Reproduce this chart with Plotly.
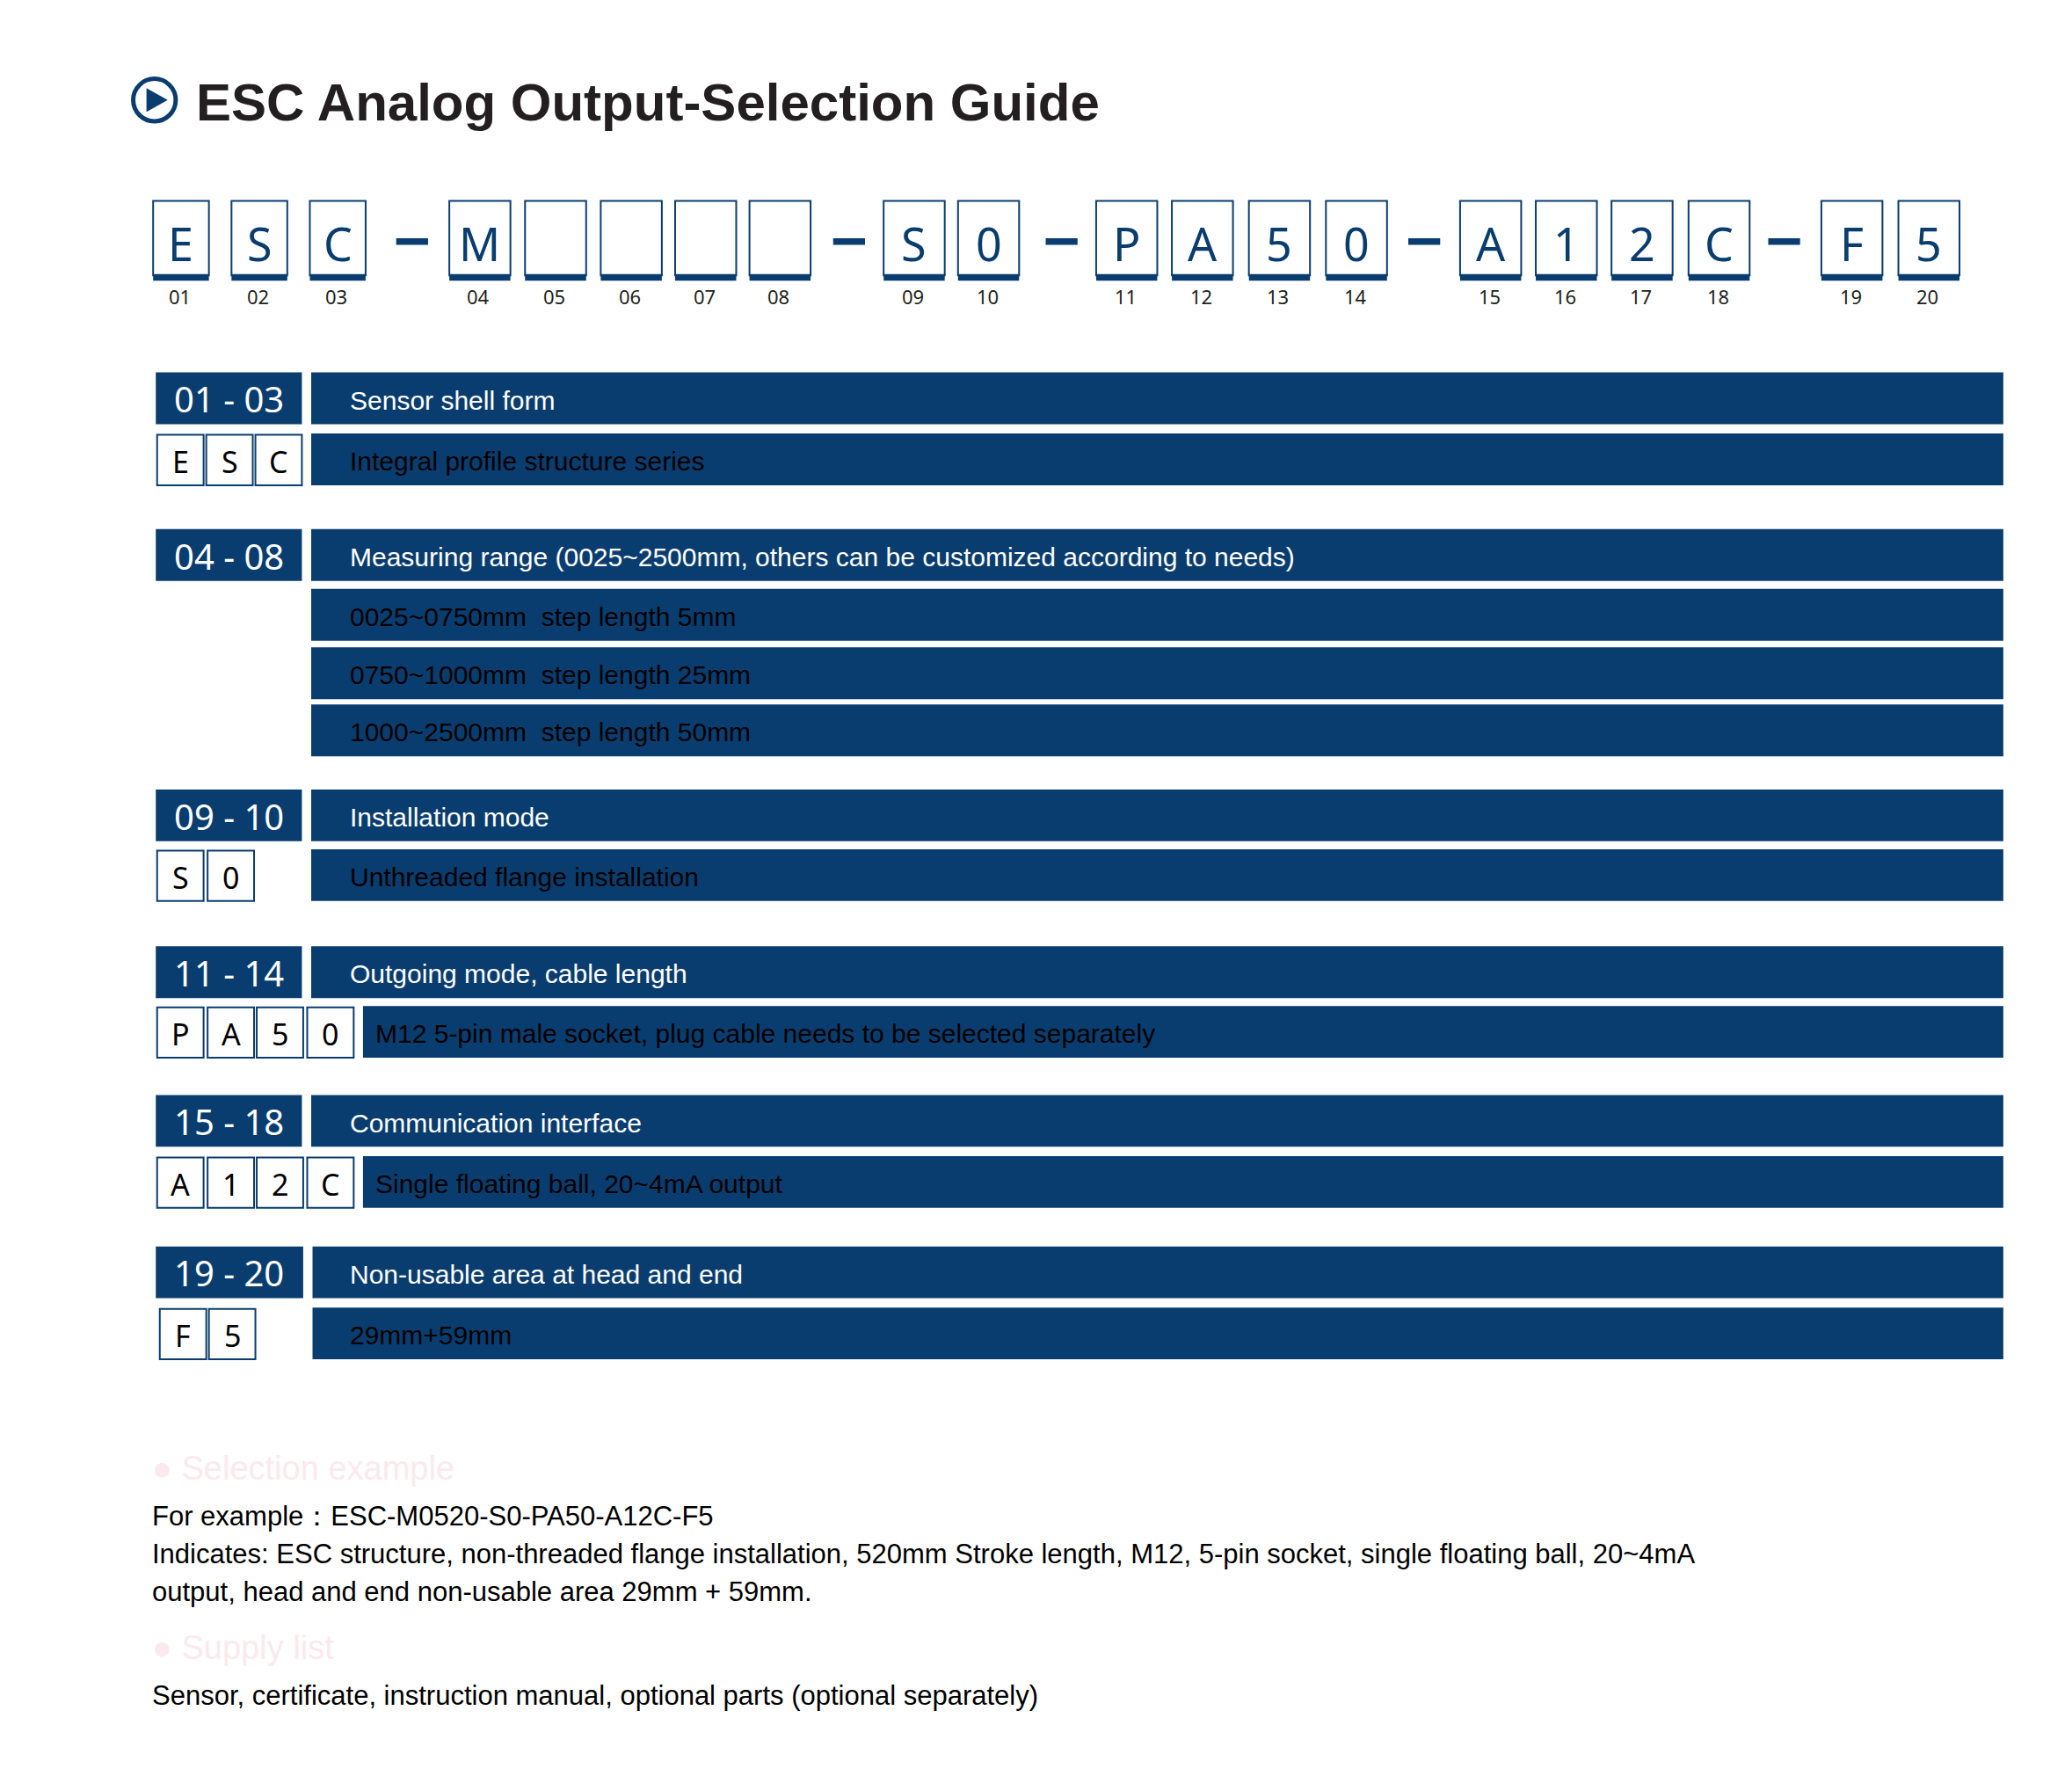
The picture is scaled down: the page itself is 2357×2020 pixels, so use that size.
import plotly.graph_objects as go

W, H = 2357, 2020
K = W / 1560.0
BLUE = "#0a3d6f"
DARK = "#231f20"

title = "ESC Analog Output-Selection Guide"
code_chars = ["E", "S", "C", "M", "", "", "", "", "S", "0", "P", "A", "5", "0", "A", "1", "2", "C", "F", "5"]
code_nums = ["01", "02", "03", "04", "05", "06", "07", "08", "09", "10", "11", "12", "13", "14", "15", "16", "17", "18", "19", "20"]
section_ranges = ["01 - 03", "04 - 08", "09 - 10", "11 - 14", "15 - 18", "19 - 20"]
section_titles = ["Sensor shell form",
                  "Measuring range (0025~2500mm, others can be customized according to needs)",
                  "Installation mode", "Outgoing mode, cable length",
                  "Communication interface", "Non-usable area at head and end"]
section_options = [["Integral profile structure series"],
                   ["0025~0750mm  step length 5mm", "0750~1000mm  step length 25mm", "1000~2500mm  step length 50mm"],
                   ["Unthreaded flange installation"],
                   ["M12 5-pin male socket, plug cable needs to be selected separately"],
                   ["Single floating ball, 20~4mA output"],
                   ["29mm+59mm"]]
option_codes = [["E", "S", "C"], [], ["S", "0"], ["P", "A", "5", "0"], ["A", "1", "2", "C"], ["F", "5"]]
example_heading = "● Selection example"
example_lines = ["For example：ESC-M0520-S0-PA50-A12C-F5",
                 "Indicates: ESC structure, non-threaded flange installation, 520mm Stroke length, M12, 5-pin socket, single floating ball, 20~4mA",
                 "output, head and end non-usable area 29mm + 59mm."]
supply_heading = "● Supply list"
supply_lines = ["Sensor, certificate, instruction manual, optional parts (optional separately)"]

# layout positions (display units)
code_left = [110, 169, 228, 333, 390, 447, 503, 559, 660, 716, 820, 877, 935, 993, 1094, 1151, 1208, 1266, 1366, 1424]
dash_left = [293, 622, 782, 1055, 1326]
sec_header_y = [275, 393, 589, 707, 819, 933]
sec_opt_y = [[321], [438, 482, 525], [634], [752], [865], [979]]
opt_bar_left = [229, 229, 229, 268, 268, 230]
code_box_left = [[113, 150, 187], [], [113, 151], [113, 151, 188, 226], [113, 151, 188, 226], [115, 152]]

shapes, ann = [], []

def rect(x0, y0, x1, y1, fill=None, line=None, lw=0):
    shapes.append(dict(type="rect", x0=x0*K, x1=x1*K, y0=y0*K, y1=y1*K, xref="x", yref="y",
                       fillcolor=fill or "rgba(0,0,0,0)", line=dict(color=line or "rgba(0,0,0,0)", width=lw)))

def text(x, y, s, size, color, family="Liberation Sans", anchor="left"):
    ann.append(dict(x=x*K, y=y*K, text=s, xref="x", yref="y", showarrow=False, xanchor=anchor,
                    yanchor="middle", font=dict(size=size, color=color, family=family)))

# title with icon
shapes.append(dict(type="circle", x0=95*K, x1=127*K, y0=54*K, y1=86*K, xref="x", yref="y",
                   line=dict(color=BLUE, width=5), fillcolor="white"))
shapes.append(dict(type="path", path=f"M {105*K} {61*K} L {105*K} {79*K} L {121*K} {70*K} Z",
                   xref="x", yref="y", fillcolor=BLUE, line=dict(width=0)))
text(141, 72, "<b>" + title + "</b>", 60, DARK)

# code boxes
for ch, num, xl in zip(code_chars, code_nums, code_left):
    w = 46 if xl >= 333 else 42
    rect(xl, 146, xl + w, 202, fill="white", line=BLUE, lw=2)
    rect(xl, 201, xl + w, 206, fill=BLUE)
    if ch:
        text(xl + w / 2, 178, ch, 52, BLUE, "Noto Sans", "center")
    text(xl + w / 2 - 1, 218, num, 22, DARK, "Noto Sans", "center")
for dl in dash_left:
    rect(dl, 174, dl + 24, 179, fill=BLUE)

# sections
for i, rng in enumerate(section_ranges):
    y0 = sec_header_y[i]
    lx1 = 223 if i == 5 else 222
    rect(112, y0, lx1, y0 + 39, fill=BLUE)
    text(167, y0 + 20, rng, 40, "white", "Noto Sans", "center")
    rect(opt_bar_left[0] if i != 5 else 230, y0, 1503, y0 + 39, fill=BLUE)
    text(257, y0 + 21, section_titles[i], 30, "white")
    for opt, oy in zip(section_options[i], sec_opt_y[i]):
        rect(opt_bar_left[i], oy, 1503, oy + 39, fill=BLUE)
        tx = 276 if opt_bar_left[i] == 268 else 257
        text(tx, oy + 21, opt, 30, "black")
    for ch, bx in zip(option_codes[i], code_box_left[i]):
        oy = sec_opt_y[i][0]
        rect(bx, oy + 1, bx + 35, oy + 39, fill="white", line=BLUE, lw=2)
        text(bx + 17.5, oy + 21, ch, 34, "black", "Noto Sans", "center")

# bottom text
text(108, 1100, example_heading, 38, "#fbe9ee")
for j, s in enumerate(example_lines):
    text(108, 1136 + j * 28.5, s, 31, "black")
text(108, 1235, supply_heading, 38, "#fbe9ee")
text(108, 1271, supply_lines[0], 31, "black")

fig = go.Figure()
fig.update_layout(width=W, height=H, margin=dict(l=0, r=0, t=0, b=0),
                  plot_bgcolor="white", paper_bgcolor="white",
                  xaxis=dict(range=[0, W], visible=False, fixedrange=True),
                  yaxis=dict(range=[H, 0], visible=False, fixedrange=True),
                  shapes=shapes, annotations=ann, showlegend=False)
fig.write_html("out.html")
